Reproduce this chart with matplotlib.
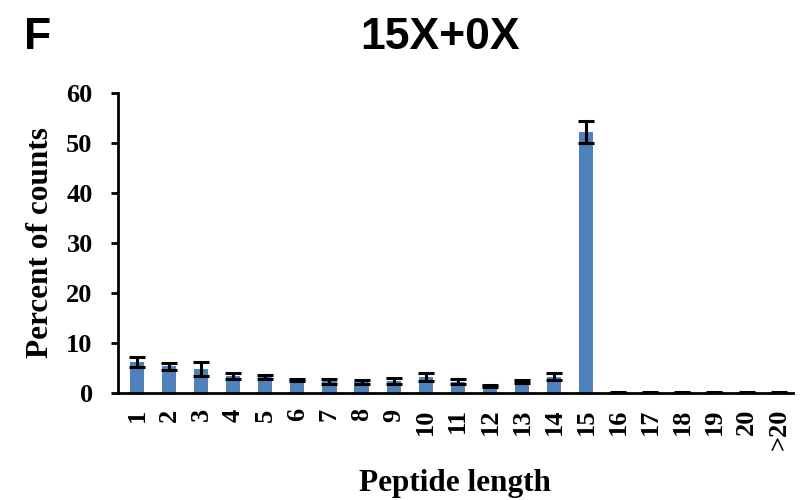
import matplotlib
matplotlib.use("Agg")
import matplotlib.pyplot as plt
import numpy as np

categories = ["1", "2", "3", "4", "5", "6", "7", "8", "9", "10", "11",
              "12", "13", "14", "15", "16", "17", "18", "19", "20", ">20"]
percent = [6.2, 5.4, 4.9, 3.5, 3.3, 2.6, 2.4, 2.3, 2.4, 3.3, 2.3,
           1.5, 2.3, 3.3, 52.2, 0.1, 0.1, 0.1, 0.1, 0.1, 0.1]
errors = [1.0, 0.7, 1.4, 0.6, 0.4, 0.2, 0.5, 0.4, 0.6, 0.8, 0.5,
          0.2, 0.3, 0.7, 2.3, 0.05, 0.05, 0.05, 0.05, 0.05, 0.05]
yticks = [0, 10, 20, 30, 40, 50, 60]

serif = ["Liberation Serif", "DejaVu Serif"]
sans = ["Liberation Sans", "DejaVu Sans"]

fig = plt.figure(figsize=(8.06, 5.0), dpi=100)
ax = fig.add_axes([0.146, 0.214, 0.838, 0.60])

x = np.arange(len(categories))
ax.bar(x, percent, width=0.44, color="#4F81BD", zorder=2)
ax.errorbar(x, percent, yerr=errors, fmt="none", ecolor="black",
            elinewidth=2.2, capsize=6, capthick=2.2, zorder=3)

ax.set_xlim(-0.6, len(categories) - 0.55)
ax.set_ylim(0, 60)
ax.set_yticks(yticks)
ax.set_xticks(x)
ax.set_xticklabels(categories, rotation=90, fontfamily=serif,
                   fontweight="bold", fontsize=19)
ax.set_yticklabels([str(t) for t in yticks], fontfamily=serif,
                   fontweight="bold", fontsize=19)
ax.tick_params(axis="x", length=0, pad=11)
ax.tick_params(axis="y", direction="out", length=5, width=2, pad=13)

for side in ("top", "right"):
    ax.spines[side].set_visible(False)
for side in ("left", "bottom"):
    ax.spines[side].set_linewidth(2)

ax.set_xlabel("Peptide length", fontfamily=serif, fontweight="bold",
              fontsize=22.5, labelpad=14)
ax.set_ylabel("Percent of counts", fontfamily=serif, fontweight="bold",
              fontsize=22.5, labelpad=8)

title = fig.text(0.546, 0.925, "15X+0X", ha="center", va="center",
                 fontfamily=sans, fontweight="bold", fontsize=32)
fig.text(0.03, 0.925, "F", ha="left", va="center",
         fontfamily=sans, fontweight="bold", fontsize=32)

fig.savefig("out.png", dpi=100)
